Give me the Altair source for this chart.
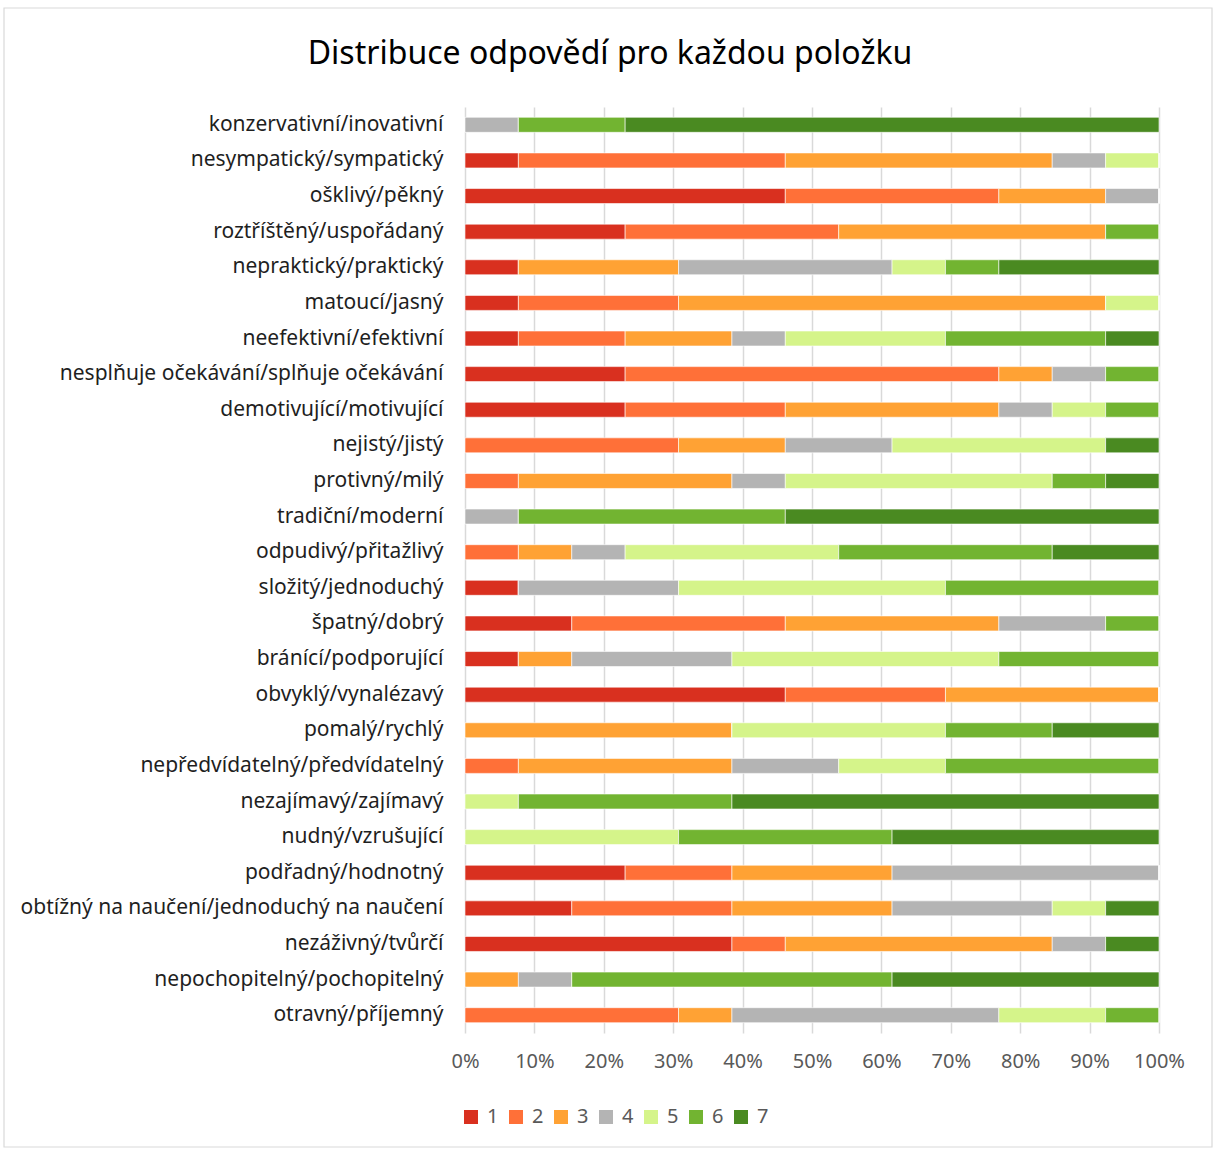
import altair as alt
import pandas as pd

categories = [
    "konzervativní/inovativní",
    "nesympatický/sympatický",
    "ošklivý/pěkný",
    "roztříštěný/uspořádaný",
    "nepraktický/praktický",
    "matoucí/jasný",
    "neefektivní/efektivní",
    "nesplňuje očekávání/splňuje očekávání",
    "demotivující/motivující",
    "nejistý/jistý",
    "protivný/milý",
    "tradiční/moderní",
    "odpudivý/přitažlivý",
    "složitý/jednoduchý",
    "špatný/dobrý",
    "bránící/podporující",
    "obvyklý/vynalézavý",
    "pomalý/rychlý",
    "nepředvídatelný/předvídatelný",
    "nezajímavý/zajímavý",
    "nudný/vzrušující",
    "podřadný/hodnotný",
    "obtížný na naučení/jednoduchý na naučení",
    "nezáživný/tvůrčí",
    "nepochopitelný/pochopitelný",
    "otravný/příjemný",
]

levels = ["1", "2", "3", "4", "5", "6", "7"]

# counts of answers (out of 13) per level 1..7 for each item
counts = [
    [0, 0, 0, 1, 0, 2, 10],
    [1, 5, 5, 1, 1, 0, 0],
    [6, 4, 2, 1, 0, 0, 0],
    [3, 4, 5, 0, 0, 1, 0],
    [1, 0, 3, 4, 1, 1, 3],
    [1, 3, 8, 0, 1, 0, 0],
    [1, 2, 2, 1, 3, 3, 1],
    [3, 7, 1, 1, 0, 1, 0],
    [3, 3, 4, 1, 1, 1, 0],
    [0, 4, 2, 2, 4, 0, 1],
    [0, 1, 4, 1, 5, 1, 1],
    [0, 0, 0, 1, 0, 5, 7],
    [0, 1, 1, 1, 4, 4, 2],
    [1, 0, 0, 3, 5, 4, 0],
    [2, 4, 4, 2, 0, 1, 0],
    [1, 0, 1, 3, 5, 3, 0],
    [6, 3, 4, 0, 0, 0, 0],
    [0, 0, 5, 0, 4, 2, 2],
    [0, 1, 4, 2, 2, 4, 0],
    [0, 0, 0, 0, 1, 4, 8],
    [0, 0, 0, 0, 4, 4, 5],
    [3, 2, 3, 5, 0, 0, 0],
    [2, 3, 3, 3, 1, 0, 1],
    [5, 1, 5, 1, 0, 0, 1],
    [0, 0, 1, 1, 0, 6, 5],
    [0, 4, 1, 5, 2, 1, 0],
]

colors = ["#D9301F", "#FF7038", "#FFA234", "#B4B4B4", "#D5F48A", "#72B431", "#4A8A21"]

rows = []
for ci, cat in enumerate(categories):
    for li, lev in enumerate(levels):
        rows.append({"item": cat, "level": lev, "ord": li, "count": counts[ci][li]})
df = pd.DataFrame(rows)

FONT = "Noto Sans"

bars = alt.Chart(df).mark_bar(size=15, stroke="white", strokeWidth=0.6).encode(
    y=alt.Y("item:N", sort=categories,
            axis=alt.Axis(title=None, labelFontSize=21, labelColor="#1F1F1F", labelFont=FONT,
                          ticks=False, domain=False, labelPadding=22, labelLimit=600)),
    x=alt.X("count:Q", stack="normalize",
            scale=alt.Scale(domain=[0, 1], nice=False),
            axis=alt.Axis(title=None, format="%", values=[i / 10 for i in range(11)],
                          labelFontSize=20, labelColor="#595959", labelFont=FONT,
                          labelFlush=False, labelOverlap=False,
                          ticks=False, domain=False, grid=True, gridColor="#D9D9D9",
                          gridWidth=1.5, labelPadding=18)),
    color=alt.Color("level:N", sort=levels,
                    scale=alt.Scale(domain=levels, range=colors),
                    legend=alt.Legend(title=None, orient="none", direction="horizontal",
                                      columns=7, legendX=-4, legendY=1000,
                                      symbolType="square", symbolSize=196, symbolStrokeWidth=0,
                                      labelFontSize=20, labelColor="#595959", labelFont=FONT,
                                      columnPadding=7, labelOffset=6)),
    order=alt.Order("ord:Q"),
)

border = alt.Chart(pd.DataFrame({"a": [0]})).mark_rect(
    fill=None, stroke="#D9D9D9", strokeWidth=1.2
).encode(
    x=alt.value(-461), x2=alt.value(747), y=alt.value(-99), y2=alt.value(1040)
)

chart = alt.layer(border, bars).properties(
    width=694,
    height=926,
    padding={"left": 465, "top": 107, "right": 55, "bottom": 116},
    autosize=alt.AutoSizeParams(type="none"),
    title=alt.TitleParams("Distribuce odpovědí pro každou položku", fontSize=32,
                          font=FONT, fontWeight="normal", color="#000000",
                          anchor="middle", dx=-202, offset=0, dy=64),
).configure_view(stroke=None)

chart.save("out.html", embed_options={"renderer": "svg", "actions": False})
